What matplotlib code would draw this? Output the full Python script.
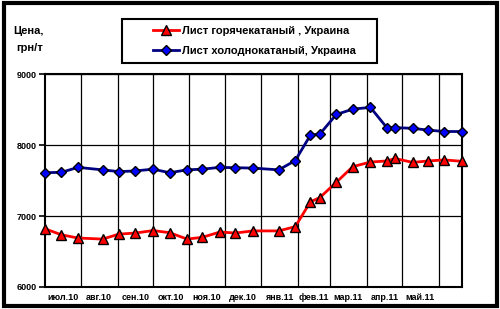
import numpy as np
import matplotlib
matplotlib.use("Agg")
import matplotlib.pyplot as plt
import matplotlib.dates as mdates
from matplotlib.patches import Rectangle

plt.rcParams['font.family'] = ['Liberation Sans', 'DejaVu Sans']
plt.rcParams['font.weight'] = 'bold'

# dates of price observations
dates = ['2010-07-01', '2010-07-15', '2010-07-29', '2010-08-19', '2010-09-02',
         '2010-09-16', '2010-10-01', '2010-10-15', '2010-10-30', '2010-11-12',
         '2010-11-27', '2010-12-10', '2010-12-25', '2011-01-16', '2011-01-30',
         '2011-02-12', '2011-02-20', '2011-03-06', '2011-03-20', '2011-04-04',
         '2011-04-18', '2011-04-25', '2011-05-10', '2011-05-23', '2011-06-06',
         '2011-06-21']

hot_rolled = [6820, 6735, 6690, 6675, 6745, 6760, 6795, 6765, 6675, 6700,
              6775, 6760, 6790, 6790, 6850, 7200, 7260, 7475, 7695, 7760,
              7775, 7810, 7755, 7775, 7790, 7770]

cold_rolled = [7610, 7615, 7685, 7650, 7625, 7635, 7660, 7610, 7650, 7660,
               7685, 7680, 7675, 7650, 7780, 8140, 8155, 8430, 8505, 8530,
               8245, 8245, 8235, 8210, 8190, 8190]

month_starts = ['2010-08-01', '2010-09-01', '2010-10-01', '2010-11-01',
                '2010-12-01', '2011-01-01', '2011-02-01', '2011-03-01',
                '2011-04-01', '2011-05-01', '2011-06-01']
month_mids = ['2010-07-16', '2010-08-16', '2010-09-16', '2010-10-16',
              '2010-11-16', '2010-12-16', '2011-01-16', '2011-02-15',
              '2011-03-16', '2011-04-16', '2011-05-16']
month_labels = ['июл.10', 'авг.10', 'сен.10', 'окт.10', 'ноя.10', 'дек.10',
                'янв.11', 'фев.11', 'мар.11', 'апр.11', 'май.11']

label_hot = 'Лист горячекатаный , Украина'
label_cold = 'Лист холоднокатаный, Украина'

x = mdates.datestr2num(dates)

fig = plt.figure(figsize=(5, 3.09), dpi=100)
ax = fig.add_axes([0.09, 0.0712, 0.834, 0.6893])

ax.plot(x, hot_rolled, color='#FF0000', lw=2, marker='^', ms=7.5,
        mfc='#FF0000', mec='black', mew=1, label=label_hot, zorder=3,
        clip_on=False)
ax.plot(x, cold_rolled, color='#000080', lw=2, marker='D', ms=5.5,
        mfc='#0000FF', mec='black', mew=1, label=label_cold, zorder=3,
        clip_on=False)

ax.set_xlim(x[0], x[-1])
ax.set_ylim(6000, 9000)
ax.set_yticks([6000, 7000, 8000, 9000])
ax.tick_params(axis='y', labelsize=6.5, length=4, width=1.2, direction='out', pad=2)

ax.set_xticks(mdates.datestr2num(month_starts))
ax.set_xticklabels([])
ax.set_xticks(mdates.datestr2num(month_mids), minor=True)
ax.set_xticklabels(month_labels, minor=True)
ax.tick_params(axis='x', which='major', length=0)
ax.tick_params(axis='x', which='minor', length=0, labelsize=6.5, pad=4)

ax.grid(True, which='major', color='black', lw=0.9)
ax.set_axisbelow(True)
for s in ax.spines.values():
    s.set_linewidth(1.5)

fig.text(0.026, 0.9, 'Цена,', fontsize=8, ha='left', va='center')
fig.text(0.032, 0.845, 'грн/т', fontsize=8, ha='left', va='center')

leg = fig.legend(loc='center left', bbox_to_anchor=(0.295, 0.868),
                 frameon=False, fontsize=8, handlelength=2.3,
                 handletextpad=0.3, labelspacing=0.85, borderpad=0)
fig.patches.append(Rectangle((0.244, 0.796), 0.51, 0.1425,
                             transform=fig.transFigure, fill=False,
                             ec='black', lw=1.5))
fig.patches.append(Rectangle((0.007, 0.01), 0.986, 0.98,
                             transform=fig.transFigure, fill=False,
                             ec='black', lw=3))

fig.savefig('out.png', dpi=100)
